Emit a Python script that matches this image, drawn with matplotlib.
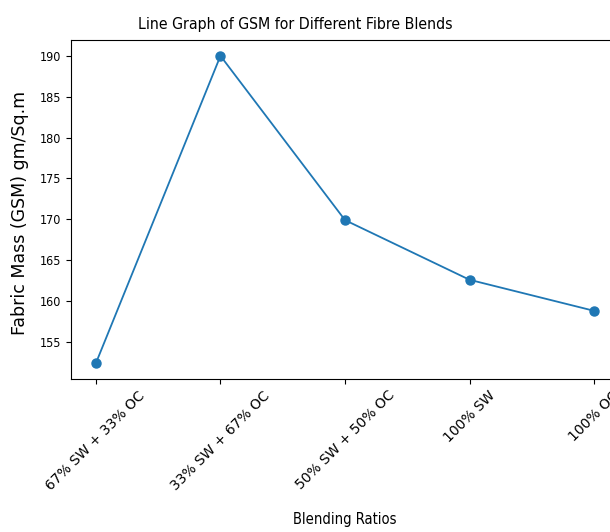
import matplotlib
matplotlib.use("Agg")
import matplotlib.pyplot as plt

blends = ["67% SW + 33% OC", "33% SW + 67% OC", "50% SW + 50% OC", "100% SW", "100% OC"]
gsm = [152.4, 190.0, 169.9, 162.6, 158.8]

fig = plt.figure(figsize=(6.1, 5.32), dpi=100)
# axes run past the right edge, as in the reference crop
ax = fig.add_axes([0.1164, 0.2885, 0.8984, 0.6354])

ax.plot(blends, gsm, marker="o", markersize=6.5, linewidth=1.3)
ax.tick_params(axis="x", labelsize=10, length=3.5)
ax.tick_params(axis="y", length=3.5)
plt.setp(ax.get_xticklabels(), rotation=45)
plt.setp(ax.get_yticklabels(), fontsize=9, fontstretch="condensed")

ax.set_xlabel("Blending Ratios", fontsize=10.5, fontstretch="condensed", labelpad=14)
fig.text(20 / 610, 1 - 213 / 532, "Fabric Mass (GSM) gm/Sq.m",
         rotation=90, ha="center", va="center", fontsize=12.5)
fig.text(295 / 610, 1 - 25 / 532, "Line Graph of GSM for Different Fibre Blends",
         ha="center", va="center", fontsize=11.3, fontstretch="condensed")

fig.savefig("out.png", dpi=100)
